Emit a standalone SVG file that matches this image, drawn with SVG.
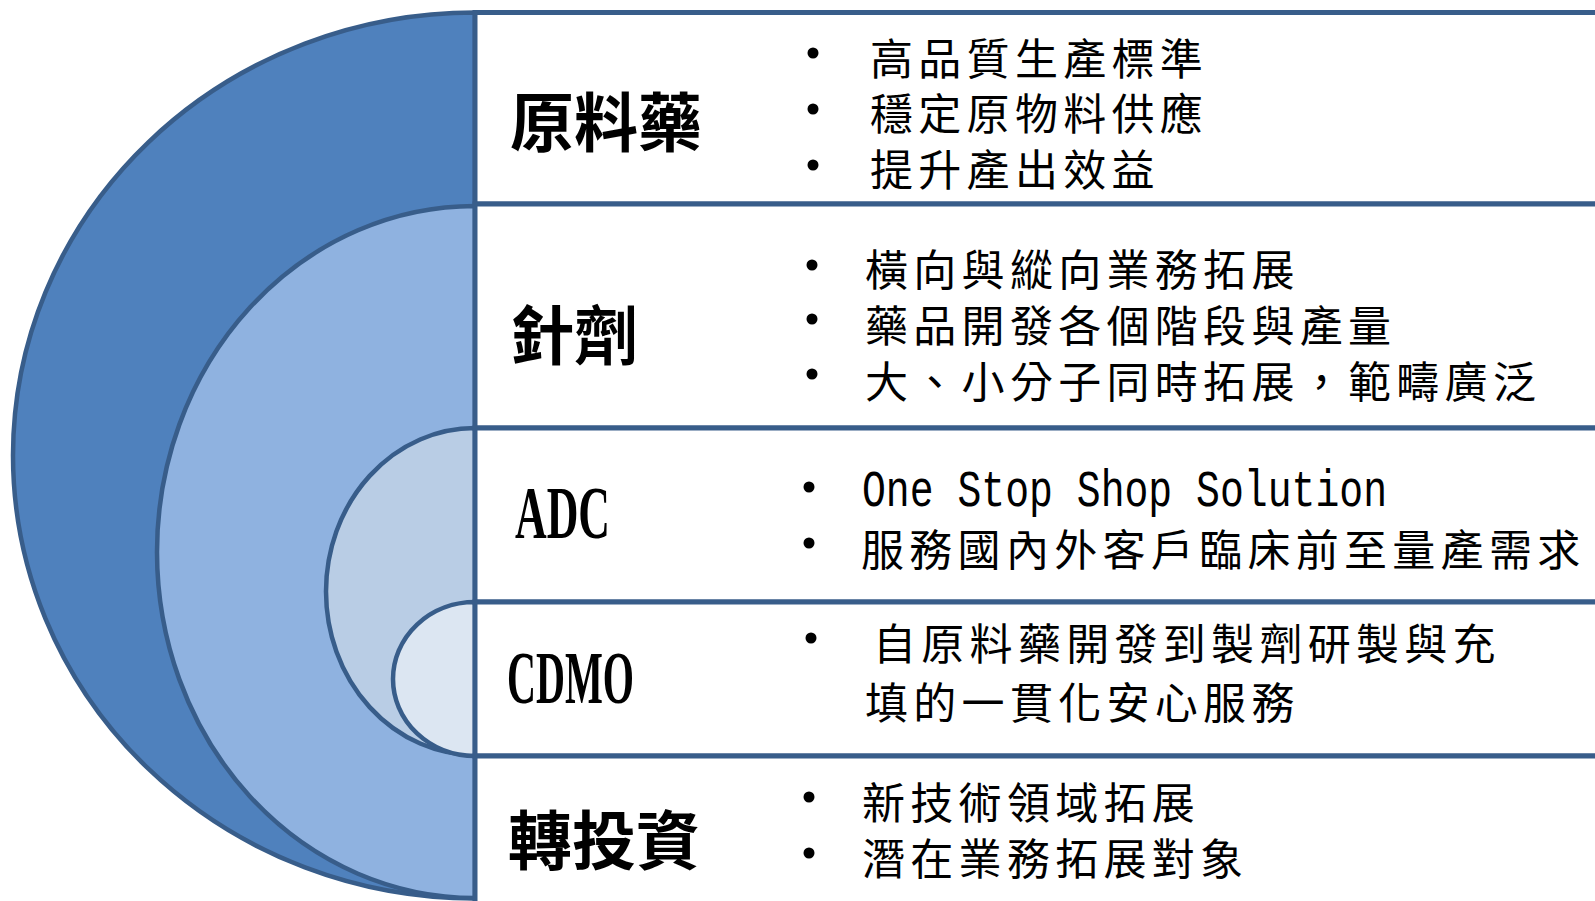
<svg xmlns="http://www.w3.org/2000/svg" width="1595" height="901" viewBox="0 0 1595 901">
  <style>
    .arc { stroke: #385D8A; stroke-width: 4.5; }
    .box { fill: #FFFFFF; stroke: #385D8A; stroke-width: 5; }
    .lbl { font-family: "Noto Sans CJK TC", "Noto Sans CJK SC", sans-serif; font-weight: 700; font-size: 64px; fill: #000000; dominant-baseline: central; }
    .lat { font-family: "Liberation Serif", serif; font-weight: 700; font-size: 75px; fill: #000000; }
    .itm { font-family: "Noto Sans CJK TC", "Noto Sans CJK SC", sans-serif; font-size: 43px; letter-spacing: 5.3px; fill: #000000; dominant-baseline: central; }
    .eng { font-family: "Liberation Mono", monospace; font-size: 52px; fill: #000000; }
    .dot { fill: #000000; }
  </style>

  <g id="rings">
    <path id="ring-api" class="arc" fill="#4F81BD" d="M475,12.5 A462,443 0 0 0 475,898.5 Z"/>
    <path id="ring-injection" class="arc" fill="#8FB2E0" d="M475,206 A318,346 0 0 0 475,898 Z"/>
    <path id="ring-adc" class="arc" fill="#B9CDE5" d="M475,428 A149,163.5 0 0 0 475,755 Z"/>
    <path id="ring-cdmo" class="arc" fill="#DCE6F2" d="M475,602 A82,77 0 0 0 475,756 Z"/>
  </g>

  <g id="node-api">
    <rect class="box" x="475" y="12.5" width="1200" height="191.5"/>
    <text class="lbl" x="510" y="118">原料藥</text>
    <circle class="dot" cx="813" cy="53" r="5.5"/>
    <circle class="dot" cx="813" cy="109" r="5.5"/>
    <circle class="dot" cx="813" cy="165" r="5.5"/>
    <text class="itm" x="870" y="56">高品質生產標準</text>
    <text class="itm" x="870" y="111">穩定原物料供應</text>
    <text class="itm" x="870" y="167">提升產出效益</text>
  </g>

  <g id="node-injection">
    <rect class="box" x="475" y="204" width="1200" height="224"/>
    <text class="lbl" x="510" y="331">針劑</text>
    <circle class="dot" cx="812" cy="265" r="5.5"/>
    <circle class="dot" cx="812" cy="319" r="5.5"/>
    <circle class="dot" cx="812" cy="374" r="5.5"/>
    <text class="itm" x="865" y="267">橫向與縱向業務拓展</text>
    <text class="itm" x="865" y="323">藥品開發各個階段與產量</text>
    <text class="itm" x="865" y="379">大、小分子同時拓展，範疇廣泛</text>
  </g>

  <g id="node-adc">
    <rect class="box" x="475" y="428" width="1200" height="174"/>
    <text class="lat" x="515" y="538" textLength="95" lengthAdjust="spacingAndGlyphs">ADC</text>
    <circle class="dot" cx="809" cy="487" r="5.5"/>
    <circle class="dot" cx="809" cy="543" r="5.5"/>
    <text class="eng" x="862" y="506" textLength="525" lengthAdjust="spacingAndGlyphs">One Stop Shop Solution</text>
    <text class="itm" x="861" y="547">服務國內外客戶臨床前至量產需求</text>
  </g>

  <g id="node-cdmo">
    <rect class="box" x="475" y="602" width="1200" height="154"/>
    <text class="lat" x="507" y="703" textLength="127" lengthAdjust="spacingAndGlyphs">CDMO</text>
    <circle class="dot" cx="811" cy="638" r="5.5"/>
    <text class="itm" x="873" y="641">自原料藥開發到製劑研製與充</text>
    <text class="itm" x="865" y="700">填的一貫化安心服務</text>
  </g>

  <g id="node-investment">
    <rect class="box" x="475" y="756" width="1200" height="160"/>
    <text class="lbl" x="508" y="836">轉投資</text>
    <circle class="dot" cx="809" cy="797" r="5.5"/>
    <circle class="dot" cx="809" cy="853" r="5.5"/>
    <text class="itm" x="862" y="800">新技術領域拓展</text>
    <text class="itm" x="862" y="856">潛在業務拓展對象</text>
  </g>
</svg>
